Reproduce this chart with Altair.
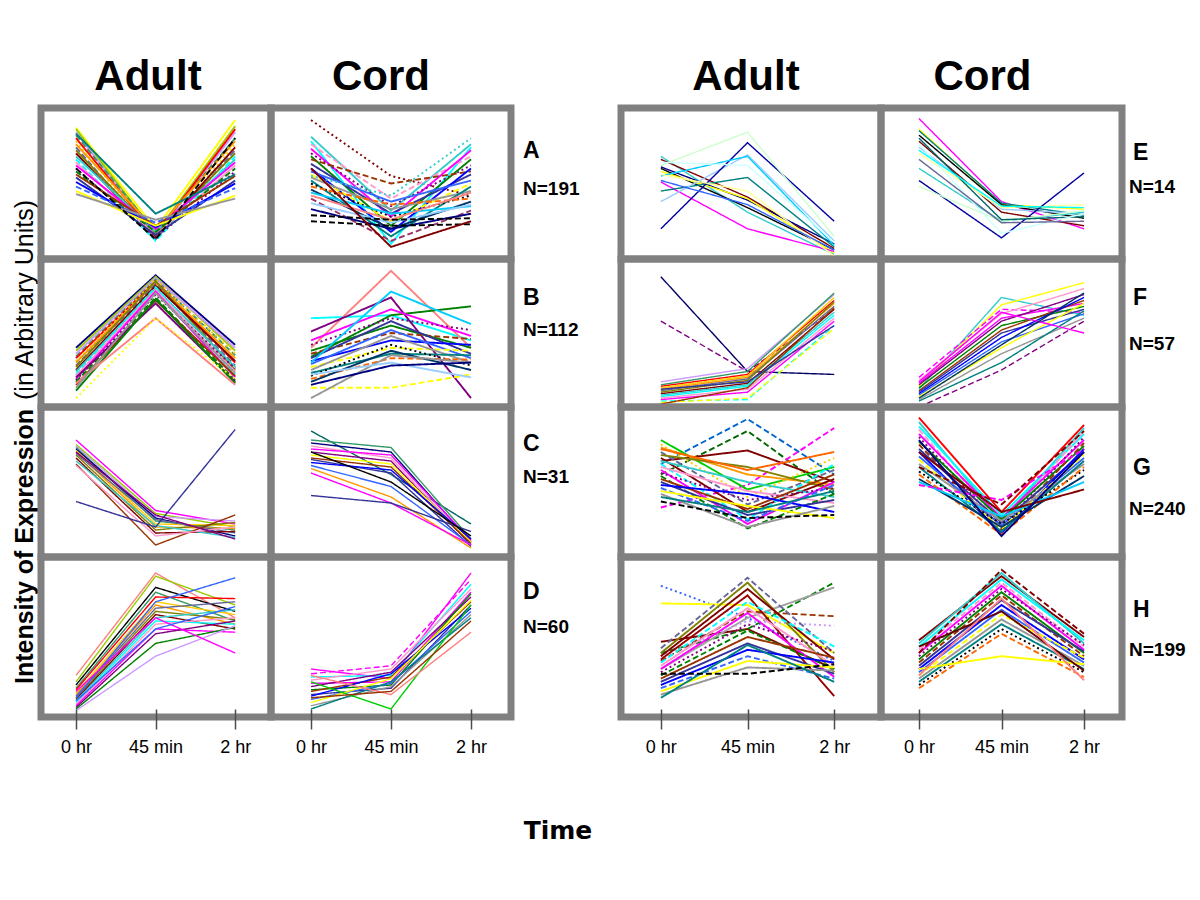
import json
import altair as alt
import pandas as pd

# ---------------- data ----------------
TIMES = ["0 hr", "45 min", "2 hr"]
LEFT_LETTERS = ["A", "B", "C", "D"]
LEFT_N = [191, 112, 31, 60]
RIGHT_LETTERS = ["E", "F", "G", "H"]
RIGHT_N = [14, 57, 240, 199]

# each profile: relative intensity at (0 hr, 45 min, 2 hr), 0 = panel bottom, 1 = panel top
A_ADULT = [(0.87, 0.20, 0.92), (0.86, 0.17, 0.88), (0.84, 0.15, 0.84), (0.82, 0.18, 0.80),
           (0.80, 0.16, 0.86), (0.78, 0.14, 0.76), (0.76, 0.19, 0.78), (0.74, 0.13, 0.72),
           (0.72, 0.17, 0.70), (0.70, 0.15, 0.74), (0.68, 0.18, 0.66), (0.66, 0.12, 0.68),
           (0.64, 0.16, 0.62), (0.62, 0.20, 0.64), (0.60, 0.14, 0.58), (0.58, 0.18, 0.60),
           (0.56, 0.22, 0.55), (0.54, 0.16, 0.52), (0.51, 0.21, 0.50), (0.48, 0.24, 0.47),
           (0.45, 0.22, 0.42), (0.43, 0.26, 0.40), (0.83, 0.30, 0.56), (0.60, 0.13, 0.80)]
A_CORD = [(0.92, 0.55, 0.42), (0.81, 0.32, 0.76), (0.78, 0.10, 0.74), (0.76, 0.40, 0.68),
          (0.73, 0.28, 0.72), (0.70, 0.35, 0.62), (0.68, 0.22, 0.66), (0.66, 0.50, 0.58),
          (0.63, 0.30, 0.56), (0.60, 0.18, 0.60), (0.58, 0.38, 0.52), (0.56, 0.25, 0.50),
          (0.54, 0.33, 0.45), (0.52, 0.15, 0.48), (0.50, 0.28, 0.42), (0.48, 0.36, 0.40),
          (0.46, 0.20, 0.38), (0.44, 0.30, 0.35), (0.42, 0.26, 0.44), (0.40, 0.12, 0.32),
          (0.37, 0.24, 0.36), (0.33, 0.20, 0.30), (0.29, 0.26, 0.27), (0.25, 0.22, 0.23),
          (0.55, 0.42, 0.80), (0.60, 0.08, 0.25)]
B_ADULT = [(0.40, 0.89, 0.42), (0.38, 0.88, 0.38), (0.36, 0.87, 0.40), (0.34, 0.86, 0.35),
           (0.33, 0.85, 0.30), (0.31, 0.86, 0.36), (0.30, 0.84, 0.33), (0.28, 0.83, 0.28),
           (0.27, 0.85, 0.25), (0.25, 0.82, 0.31), (0.24, 0.80, 0.27), (0.22, 0.81, 0.22),
           (0.21, 0.79, 0.24), (0.19, 0.78, 0.20), (0.18, 0.76, 0.26), (0.17, 0.74, 0.18),
           (0.15, 0.72, 0.21), (0.20, 0.70, 0.17), (0.11, 0.73, 0.16), (0.16, 0.60, 0.15),
           (0.06, 0.60, 0.19), (0.13, 0.77, 0.23)]
B_CORD = [(0.60, 0.62, 0.45), (0.40, 0.92, 0.40), (0.51, 0.74, 0.06), (0.34, 0.62, 0.68),
          (0.45, 0.66, 0.48), (0.42, 0.60, 0.52), (0.38, 0.55, 0.40), (0.36, 0.50, 0.46),
          (0.33, 0.58, 0.36), (0.31, 0.45, 0.42), (0.29, 0.52, 0.33), (0.27, 0.40, 0.38),
          (0.25, 0.48, 0.30), (0.23, 0.36, 0.35), (0.21, 0.42, 0.28), (0.19, 0.33, 0.32),
          (0.17, 0.38, 0.25), (0.30, 0.78, 0.56), (0.13, 0.13, 0.22), (0.06, 0.35, 0.30),
          (0.22, 0.30, 0.20), (0.15, 0.28, 0.30)]
C_ADULT = [(0.78, 0.31, 0.22), (0.75, 0.29, 0.20), (0.74, 0.27, 0.24), (0.73, 0.24, 0.18),
           (0.72, 0.26, 0.14), (0.71, 0.22, 0.21), (0.70, 0.20, 0.19), (0.69, 0.25, 0.16),
           (0.68, 0.18, 0.23), (0.66, 0.16, 0.17), (0.64, 0.21, 0.13), (0.62, 0.08, 0.28),
           (0.61, 0.14, 0.20), (0.37, 0.20, 0.85), (0.70, 0.28, 0.12)]
C_CORD = [(0.84, 0.55, 0.22), (0.78, 0.73, 0.12), (0.76, 0.70, 0.10), (0.74, 0.66, 0.09),
          (0.72, 0.68, 0.11), (0.70, 0.64, 0.08), (0.68, 0.62, 0.10), (0.66, 0.60, 0.09),
          (0.65, 0.56, 0.07), (0.63, 0.58, 0.12), (0.61, 0.47, 0.08), (0.59, 0.40, 0.06),
          (0.56, 0.36, 0.08), (0.41, 0.36, 0.17), (0.70, 0.50, 0.14)]
D_ADULT = [(0.26, 0.90, 0.62), (0.22, 0.88, 0.70), (0.20, 0.81, 0.66), (0.18, 0.78, 0.60),
           (0.17, 0.75, 0.74), (0.15, 0.72, 0.64), (0.14, 0.70, 0.58), (0.13, 0.68, 0.72),
           (0.12, 0.66, 0.61), (0.11, 0.64, 0.55), (0.10, 0.62, 0.67), (0.09, 0.60, 0.58),
           (0.08, 0.58, 0.62), (0.07, 0.55, 0.53), (0.06, 0.52, 0.60), (0.05, 0.46, 0.56),
           (0.04, 0.38, 0.57), (0.12, 0.72, 0.87), (0.16, 0.62, 0.40), (0.10, 0.55, 0.69)]
D_CORD = [(0.30, 0.24, 0.90), (0.27, 0.32, 0.86), (0.25, 0.26, 0.83), (0.23, 0.30, 0.80),
          (0.21, 0.22, 0.78), (0.19, 0.28, 0.75), (0.17, 0.20, 0.77), (0.16, 0.25, 0.72),
          (0.14, 0.18, 0.70), (0.13, 0.27, 0.68), (0.11, 0.21, 0.66), (0.09, 0.24, 0.73),
          (0.07, 0.19, 0.64), (0.05, 0.22, 0.62), (0.22, 0.05, 0.70), (0.26, 0.14, 0.53),
          (0.12, 0.16, 0.60)]
E_ADULT = [(0.68, 0.31, 0.03), (0.66, 0.41, 0.07), (0.60, 0.34, 0.06), (0.61, 0.39, 0.10),
           (0.58, 0.40, 0.04), (0.51, 0.20, 0.05), (0.45, 0.54, 0.08), (0.38, 0.69, 0.12),
           (0.20, 0.77, 0.25), (0.62, 0.84, 0.15), (0.55, 0.68, 0.09), (0.56, 0.45, 0.02),
           (0.64, 0.62, 0.11), (0.52, 0.36, 0.06)]
E_CORD = [(0.93, 0.38, 0.20), (0.86, 0.36, 0.33), (0.85, 0.37, 0.29), (0.82, 0.36, 0.27),
          (0.78, 0.31, 0.22), (0.74, 0.33, 0.30), (0.70, 0.34, 0.36), (0.60, 0.25, 0.31),
          (0.52, 0.14, 0.57), (0.48, 0.25, 0.32), (0.80, 0.26, 0.28), (0.76, 0.17, 0.30),
          (0.72, 0.35, 0.34), (0.66, 0.24, 0.25)]
F_ADULT = [(0.88, 0.24, 0.22), (0.58, 0.24, 0.66), (0.17, 0.26, 0.76), (0.15, 0.24, 0.77),
           (0.14, 0.22, 0.72), (0.13, 0.21, 0.74), (0.12, 0.20, 0.70), (0.11, 0.19, 0.68),
           (0.10, 0.18, 0.71), (0.09, 0.16, 0.66), (0.08, 0.15, 0.64), (0.07, 0.14, 0.62),
           (0.06, 0.12, 0.60), (0.05, 0.10, 0.58), (0.04, 0.05, 0.55), (0.03, 0.06, 0.53),
           (0.02, 0.13, 0.67), (0.12, 0.17, 0.55)]
F_CORD = [(0.12, 0.74, 0.62), (0.14, 0.69, 0.84), (0.20, 0.66, 0.64), (0.18, 0.63, 0.80),
          (0.16, 0.60, 0.70), (0.15, 0.58, 0.76), (0.13, 0.55, 0.68), (0.11, 0.52, 0.72),
          (0.10, 0.50, 0.66), (0.09, 0.47, 0.74), (0.08, 0.44, 0.63), (0.07, 0.40, 0.70),
          (0.05, 0.36, 0.60), (0.04, 0.30, 0.65), (0.00, 0.25, 0.58), (0.17, 0.64, 0.50),
          (0.06, 0.42, 0.77)]
G_ADULT = [(0.62, 0.92, 0.55), (0.55, 0.84, 0.42), (0.64, 0.71, 0.50), (0.33, 0.48, 0.86),
           (0.78, 0.45, 0.60), (0.75, 0.40, 0.66), (0.73, 0.55, 0.48), (0.70, 0.35, 0.58),
           (0.68, 0.60, 0.45), (0.66, 0.30, 0.52), (0.64, 0.50, 0.40), (0.62, 0.25, 0.62),
           (0.60, 0.44, 0.36), (0.58, 0.22, 0.50), (0.56, 0.38, 0.46), (0.54, 0.19, 0.42),
           (0.52, 0.32, 0.55), (0.50, 0.28, 0.38), (0.48, 0.42, 0.30), (0.46, 0.24, 0.48),
           (0.44, 0.34, 0.26), (0.42, 0.20, 0.34), (0.40, 0.30, 0.44), (0.37, 0.26, 0.28),
           (0.72, 0.58, 0.70)]
G_CORD = [(0.93, 0.30, 0.88), (0.90, 0.24, 0.86), (0.87, 0.28, 0.82), (0.85, 0.22, 0.84),
          (0.82, 0.26, 0.78), (0.80, 0.20, 0.80), (0.77, 0.25, 0.74), (0.75, 0.18, 0.76),
          (0.72, 0.23, 0.70), (0.70, 0.16, 0.72), (0.67, 0.21, 0.66), (0.65, 0.19, 0.68),
          (0.62, 0.24, 0.62), (0.60, 0.17, 0.64), (0.57, 0.22, 0.58), (0.55, 0.15, 0.60),
          (0.52, 0.20, 0.54), (0.50, 0.27, 0.50), (0.48, 0.38, 0.72), (0.60, 0.35, 0.84),
          (0.70, 0.30, 0.45), (0.78, 0.14, 0.70)]
H_ADULT = [(0.82, 0.62, 0.35), (0.71, 0.70, 0.40), (0.47, 0.55, 0.30), (0.40, 0.55, 0.84),
           (0.30, 0.62, 0.81), (0.35, 0.66, 0.63), (0.38, 0.60, 0.57), (0.43, 0.87, 0.40),
           (0.40, 0.84, 0.28), (0.38, 0.80, 0.36), (0.36, 0.76, 0.13), (0.34, 0.72, 0.44),
           (0.32, 0.68, 0.32), (0.30, 0.65, 0.25), (0.28, 0.58, 0.41), (0.26, 0.54, 0.30),
           (0.24, 0.50, 0.37), (0.22, 0.46, 0.27), (0.20, 0.42, 0.34), (0.18, 0.38, 0.24),
           (0.16, 0.35, 0.31), (0.14, 0.31, 0.29), (0.12, 0.45, 0.22), (0.27, 0.27, 0.33)]
H_CORD = [(0.48, 0.88, 0.50), (0.46, 0.90, 0.46), (0.44, 0.86, 0.48), (0.42, 0.84, 0.44),
          (0.40, 0.82, 0.42), (0.38, 0.80, 0.45), (0.36, 0.78, 0.40), (0.34, 0.76, 0.38),
          (0.32, 0.73, 0.41), (0.30, 0.70, 0.36), (0.28, 0.67, 0.34), (0.26, 0.64, 0.37),
          (0.24, 0.61, 0.32), (0.22, 0.58, 0.30), (0.20, 0.55, 0.28), (0.18, 0.52, 0.25),
          (0.30, 0.38, 0.33), (0.44, 0.66, 0.29), (0.26, 0.74, 0.23), (0.40, 0.92, 0.52)]

# ---------------- styles ----------------
PALETTE = ["#000080", "#FF00FF", "#00CCFF", "#800000", "#008080", "#FFCC00", "#0000FF",
           "#99CC00", "#800080", "#FF8080", "#33CCCC", "#000000", "#FF9900", "#3366FF",
           "#CC99FF", "#008000", "#993366", "#00FFFF", "#FF6600", "#666699", "#FFFF00",
           "#339966", "#993300", "#99CCFF", "#FF99CC", "#003366", "#808000", "#969696",
           "#FF0000", "#333399"]
DENSE = {"A", "B", "G", "H"}
OVERRIDES = {
    ("A", "Adult"): {0: ("#FFFF00", "s")},
    ("A", "Cord"): {0: ("#800000", "o"), 22: ("#000000", "d"), 23: ("#000000", "d"),
                    24: ("#33CCCC", "o"), 25: ("#800000", "s")},
    ("B", "Adult"): {17: ("#800080", "s"), 18: ("#008000", "s"), 19: ("#FF8080", "s"),
                     20: ("#FFFF00", "o")},
    ("B", "Cord"): {0: ("#00FFFF", "s"), 1: ("#FF8080", "s"), 2: ("#800080", "s"),
                    3: ("#008000", "s"), 18: ("#FFFF00", "d"), 19: ("#969696", "s")},
    ("C", "Adult"): {0: ("#FF00FF", "s"), 4: ("#000080", "s"), 11: ("#993300", "s"),
                     13: ("#333399", "s")},
    ("C", "Cord"): {0: ("#006666", "s"), 1: ("#339966", "s"), 2: ("#000080", "s"),
                    6: ("#FFFF00", "s"), 11: ("#FF9900", "s"), 12: ("#FF00FF", "s"),
                    13: ("#333399", "s")},
    ("D", "Adult"): {0: ("#FF8080", "s"), 2: ("#000000", "s"), 16: ("#CC99FF", "s"),
                     17: ("#3366FF", "s"), 18: ("#FF00FF", "s")},
    ("D", "Cord"): {0: ("#FF00FF", "s"), 1: ("#FF00FF", "d"), 14: ("#00CC00", "s"),
                    15: ("#FF8080", "s"), 16: ("#993300", "s")},
    ("E", "Adult"): {0: ("#33CCCC", "s"), 1: ("#800000", "s"), 2: ("#000000", "s"),
                     3: ("#000080", "s"), 4: ("#FFFF00", "s"), 5: ("#FF00FF", "s"),
                     6: ("#008080", "s"), 7: ("#99CCFF", "s"), 8: ("#0000A0", "s"),
                     9: ("#CCFFCC", "s"), 10: ("#00CCFF", "s"), 11: ("#FFFF99", "s"),
                     12: ("#CCFFFF", "s"), 13: ("#3366FF", "s")},
    ("E", "Cord"): {0: ("#FF00FF", "s"), 1: ("#FFFF00", "s"), 2: ("#008080", "s"),
                    3: ("#000000", "s"), 4: ("#800000", "s"), 5: ("#99CCFF", "s"),
                    6: ("#FFFF99", "s"), 7: ("#33CCCC", "s"), 8: ("#0000A0", "s"),
                    9: ("#CCFFCC", "s"), 10: ("#006666", "s"), 11: ("#CCFFFF", "s"),
                    12: ("#00FFFF", "s"), 13: ("#666699", "s")},
    ("F", "Adult"): {0: ("#000066", "s"), 1: ("#800080", "d"), 14: ("#00FFFF", "d"),
                     15: ("#FFFF00", "d")},
    ("F", "Cord"): {0: ("#33CCCC", "s"), 1: ("#FFFF00", "s"), 2: ("#FF00FF", "d"),
                    14: ("#800080", "d"), 15: ("#FF00FF", "s")},
    ("G", "Adult"): {0: ("#0066CC", "d"), 1: ("#006600", "d"), 2: ("#800000", "s"),
                     3: ("#FF00FF", "d"), 4: ("#00CC00", "s")},
    ("G", "Cord"): {0: ("#FF0000", "s"), 18: ("#FF00FF", "d"), 19: ("#800000", "d"),
                    20: ("#800000", "s")},
    ("H", "Adult"): {0: ("#3366FF", "o"), 1: ("#FFFF00", "s"), 2: ("#800000", "s"),
                     3: ("#008000", "d"), 4: ("#A0A0A0", "s"), 5: ("#993300", "d"),
                     6: ("#CC99FF", "o"), 10: ("#990000", "s"), 23: ("#000000", "d")},
    ("H", "Cord"): {16: ("#FFFF00", "s"), 17: ("#660000", "s"), 19: ("#800000", "d")},
}

PANEL_DATA = {
    ("A", "Adult"): A_ADULT, ("A", "Cord"): A_CORD, ("B", "Adult"): B_ADULT, ("B", "Cord"): B_CORD,
    ("C", "Adult"): C_ADULT, ("C", "Cord"): C_CORD, ("D", "Adult"): D_ADULT, ("D", "Cord"): D_CORD,
    ("E", "Adult"): E_ADULT, ("E", "Cord"): E_CORD, ("F", "Adult"): F_ADULT, ("F", "Cord"): F_CORD,
    ("G", "Adult"): G_ADULT, ("G", "Cord"): G_CORD, ("H", "Adult"): H_ADULT, ("H", "Cord"): H_CORD,
}

# ---------------- layout ----------------
FONT = "Liberation Sans"
BORDER = "#808080"
ROW_H = [151, 148, 150, 160]
HEAD_H = 100
FOOT_H = 130
PAD_L = 4
YCOL_W = 28
LAB_L_W = 110
LAB_R_W = 60
PANEL_W = {("L", "Adult"): 230, ("L", "Cord"): 240, ("R", "Adult"): 260, ("R", "Cord"): 241}
XDOM = {("L", "Adult"): [-0.44, 2.45], ("L", "Cord"): [-0.5, 2.5],
        ("R", "Adult"): [-0.46, 2.54], ("R", "Cord"): [-0.46, 2.46]}
HEAD_DX = {("L", "Adult"): -8, ("L", "Cord"): -10, ("R", "Adult"): -5, ("R", "Cord"): -19}
LETTER_Y_L = [50, 46, 44, 42]
NUM_Y_L = [87, 77, 76, 76]
LETTER_Y_R = [52, 46, 68, 60]
NUM_Y_R = [85, 91, 108, 99]
LINE_W = {"dense": 1.9, "other": 1.4}

DASHES = {"s": [1, 0], "d": [6, 3], "o": [2, 3]}


def blank(w, h):
    return alt.Chart(pd.DataFrame({"t": [""]})).mark_text().encode(
        text="t:N").properties(width=w, height=h)


def header(text, w, dx):
    return alt.Chart(pd.DataFrame({"t": [text]})).mark_text(
        font=FONT, fontSize=42, fontWeight="bold", align="center", baseline="alphabetic",
        color="black").encode(text="t:N", x=alt.value(w / 2 + dx), y=alt.value(82)).properties(
        width=w, height=HEAD_H)


def panel(letter, col, side, r):
    lines = PANEL_DATA[(letter, col)]
    ov = OVERRIDES.get((letter, col), {})
    recs = []
    for i, trip in enumerate(lines):
        color = PALETTE[(i * 7 + (3 if col == "Cord" else 0)) % len(PALETTE)]
        dash = "s"
        if letter in DENSE:
            if i % 4 == 3:
                dash = "d"
            elif i % 9 == 5:
                dash = "o"
        if i in ov:
            color, dash = ov[i]
        for t, v in enumerate(trip):
            recs.append({"id": f"L{i:03d}", "t": t, "v": v, "col": color, "dash": dash})
    df = pd.DataFrame(recs)
    w = PANEL_W[(side, col)]
    bottom = r == 3
    if bottom:
        axis = alt.Axis(values=[0, 1, 2],
                        labelExpr=json.dumps(TIMES) + "[datum.value]",
                        title=None, grid=False, domain=False, ticks=True, tickSize=20,
                        tickWidth=1.5, tickColor="#4d4d4d", offset=-8,
                        labelFont=FONT, labelFontSize=18, labelColor="black",
                        labelPadding=9, labelFlush=False, labelOverlap=False, zindex=2)
    else:
        axis = None
    sw = LINE_W["dense"] if letter in DENSE else LINE_W["other"]
    return alt.Chart(df).mark_line(strokeWidth=sw).encode(
        x=alt.X("t:Q", scale=alt.Scale(domain=XDOM[(side, col)], nice=False, zero=False),
                axis=axis),
        y=alt.Y("v:Q", scale=alt.Scale(domain=[0, 1], nice=False, zero=False), axis=None),
        color=alt.Color("col:N", scale=None),
        strokeDash=alt.StrokeDash("dash:N", scale=alt.Scale(domain=list(DASHES.keys()),
                                                            range=list(DASHES.values())),
                                  legend=None),
        detail="id:N",
    ).properties(width=w, height=ROW_H[r],
                 view=alt.ViewBackground(stroke=BORDER, strokeWidth=7))


def label(letter, n, w, h, lx, nx, ly, ny):
    df = pd.DataFrame({"a": [letter], "n": [f"N={n}"]})
    base = alt.Chart(df)
    a = base.mark_text(font=FONT, fontSize=23, fontWeight="bold", align="left",
                       baseline="alphabetic", color="black").encode(
        text="a:N", x=alt.value(lx), y=alt.value(ly))
    b = base.mark_text(font=FONT, fontSize=19, fontWeight="bold", align="left",
                       baseline="alphabetic", color="black").encode(
        text="n:N", x=alt.value(nx), y=alt.value(ny))
    return alt.layer(a, b).properties(width=w, height=h)


def ytitle(h):
    df = pd.DataFrame({"a": ["Intensity of Expression"], "b": ["(in Arbitrary Units)"]})
    base = alt.Chart(df)
    a = base.mark_text(font=FONT, fontSize=25, fontWeight="bold", angle=270, align="left",
                       baseline="middle", color="black").encode(
        text="a:N", x=alt.value(12), y=alt.value(HEAD_H + 576))
    b = base.mark_text(font=FONT, fontSize=25, angle=270, align="left",
                       baseline="middle", color="black").encode(
        text="b:N", x=alt.value(12), y=alt.value(HEAD_H + 292))
    return alt.layer(a, b).properties(width=YCOL_W, height=h)


cells = [header("Adult", PANEL_W[("L", "Adult")], HEAD_DX[("L", "Adult")]),
         header("Cord", PANEL_W[("L", "Cord")], HEAD_DX[("L", "Cord")]),
         blank(LAB_L_W, HEAD_H),
         header("Adult", PANEL_W[("R", "Adult")], HEAD_DX[("R", "Adult")]),
         header("Cord", PANEL_W[("R", "Cord")], HEAD_DX[("R", "Cord")]),
         blank(LAB_R_W, HEAD_H)]

for r in range(4):
    h = ROW_H[r]
    cells.append(panel(LEFT_LETTERS[r], "Adult", "L", r))
    cells.append(panel(LEFT_LETTERS[r], "Cord", "L", r))
    cells.append(label(LEFT_LETTERS[r], LEFT_N[r], LAB_L_W, h, 12, 12, LETTER_Y_L[r], NUM_Y_L[r]))
    cells.append(panel(RIGHT_LETTERS[r], "Adult", "R", r))
    cells.append(panel(RIGHT_LETTERS[r], "Cord", "R", r))
    cells.append(label(RIGHT_LETTERS[r], RIGHT_N[r], LAB_R_W, h, 11, 7, LETTER_Y_R[r], NUM_Y_R[r]))

time_cell = alt.Chart(pd.DataFrame({"t": ["Time"]})).mark_text(
    font="DejaVu Sans", fontSize=25, fontWeight="bold", align="center", baseline="alphabetic",
    color="black").encode(text="t:N", x=alt.value(47), y=alt.value(122)).properties(
    width=LAB_L_W, height=FOOT_H)

cells += [blank(PANEL_W[("L", "Adult")], FOOT_H),
          blank(PANEL_W[("L", "Cord")], FOOT_H), time_cell,
          blank(PANEL_W[("R", "Adult")], FOOT_H), blank(PANEL_W[("R", "Cord")], FOOT_H),
          blank(LAB_R_W, FOOT_H)]

grid = alt.concat(*cells, columns=6, spacing=0, bounds="flush")
left = ytitle(HEAD_H + sum(ROW_H) + FOOT_H)

chart = alt.hconcat(left, grid, spacing=0, bounds="flush").resolve_scale(
    x="independent", y="independent", strokeDash="independent"
).configure_view(stroke=None).properties(
    padding={"left": PAD_L, "top": 0, "right": 0, "bottom": 0}, background="white")

chart.save("out.html", embed_options={"renderer": "svg", "actions": False})
